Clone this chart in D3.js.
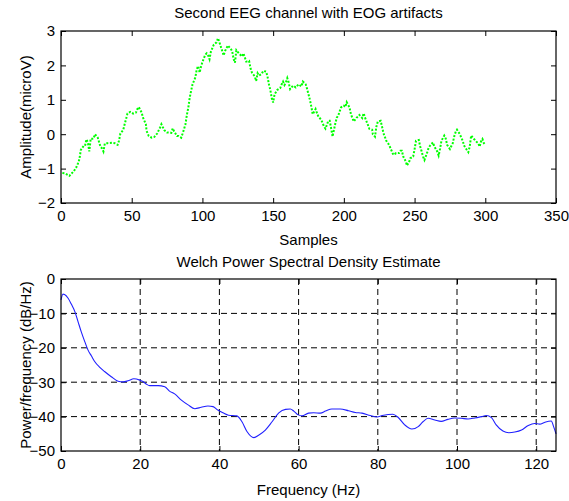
<!DOCTYPE html>
<html>
<head>
<meta charset="utf-8">
<script src="https://cdn.jsdelivr.net/npm/d3@7"></script>
<style>
  html, body { margin: 0; padding: 0; background: #fff; }
  svg { display: block; }
  text { font-family: "Liberation Sans", Arial, sans-serif; fill: #000; }
</style>
</head>
<body>
<svg id="chart" width="569" height="501"></svg>
<script>
// ---------- Data: top panel (EEG channel) ----------
const eegSamples = [1,3,6,7,9,11,12,13,14,16,17,18,19,20,21,23,24,26,27,28,29,30,31,33,36,38,40,41,42,44,45,46,47,49,51,53,54,55,57,58,60,60.5,62,64,66,68,70,71,73,75,78,79,80,82,83,85,86,87,88,89,90,91,92,93,95,96,97,98,99,100,102,103,104,105,106,108,110,111,112,114,115,116,118,120,121,122,123,124,126,128,129,130,131,133,134,135,137,138,139,140,142,143,145,146,147,148,149,150,151,153,155,156,157,158,159,160,161,162,164,166,168,170,171,173,174,175,176,177,178,180,181,182,184,186,187,188,189,190,191,192,194,195,196,198,200,201,202,204,205,207,209,210,211,213,214,215,217,218,220,220.5,222,223,224,226,227,228,230,232,233,235,237,239,240,241,242,244,244.5,246,247,249,250,251,253,254,255,256,257,259,260,261,263,264,266,267,268,269,271,272,273,275,277,278,279,280,282,284,285,287,288,289,290,292,294,295,296,297,298,299,300];
const eegAmplitude = [-1.13,-1.14,-1.21,-1.16,-1.08,-0.95,-0.85,-0.73,-0.46,-0.34,-0.34,-0.15,-0.24,-0.50,-0.13,-0.13,0.00,-0.10,-0.24,-0.37,-0.41,-0.50,-0.27,-0.26,-0.25,-0.26,-0.31,-0.19,0.02,0.12,0.29,0.44,0.60,0.65,0.60,0.63,0.73,0.79,0.63,0.48,0.29,0.10,-0.05,-0.10,-0.08,0.02,0.19,0.29,0.12,0.05,0.04,0.17,0.08,-0.05,-0.05,-0.10,0.02,0.15,0.29,0.56,0.77,1.06,1.26,1.45,1.65,1.89,1.98,1.79,1.96,2.10,2.31,2.35,2.29,2.18,2.40,2.60,2.67,2.79,2.67,2.42,2.29,2.42,2.58,2.48,2.42,2.19,2.08,2.44,2.34,2.26,2.35,2.23,2.11,2.13,1.92,1.79,1.68,1.55,1.77,1.70,1.76,1.84,1.82,1.68,1.45,1.29,1.05,0.92,1.16,1.29,1.34,1.45,1.53,1.43,1.50,1.63,1.50,1.31,1.41,1.36,1.45,1.39,1.53,1.45,1.32,1.16,1.00,0.80,0.58,0.73,0.61,0.51,0.42,0.22,0.16,0.27,0.39,0.39,0.17,-0.07,0.32,0.48,0.54,0.78,0.83,0.79,0.93,0.78,0.58,0.37,0.48,0.51,0.56,0.47,0.61,0.48,0.27,0.16,0.13,0.00,-0.07,0.22,0.37,0.39,0.22,0.03,-0.19,-0.31,-0.41,-0.60,-0.55,-0.55,-0.48,-0.48,-0.65,-0.81,-0.91,-0.82,-0.70,-0.65,-0.44,-0.19,-0.17,-0.36,-0.50,-0.65,-0.75,-0.52,-0.39,-0.33,-0.24,-0.36,-0.50,-0.62,-0.43,-0.19,-0.04,-0.12,-0.31,-0.43,-0.26,-0.07,0.06,0.13,0.00,-0.19,-0.33,-0.46,-0.52,-0.36,-0.04,-0.14,-0.23,-0.26,-0.36,-0.21,-0.14,-0.26,-0.31,-0.29,-0.39];

const topXTicks = [0,50,100,150,200,250,300,350];
const topYTicks = [-2,-1,0,1,2,3];

// ---------- Data: bottom panel (Welch PSD) ----------
const psdFreq = [0,0.5,0.9,1.8,2.6,3.5,4.3,5.1,6.0,6.8,7.7,8.5,9.8,11.0,12.7,14.4,15.7,16.9,18.4,19.9,20.7,21.5,22.4,24.5,26.2,27.4,28.7,30.4,32.1,33.8,35.4,37.1,38.4,39.6,40.9,42.3,44.4,45.7,47.0,48.7,49.9,51.6,53.3,55.0,56.7,57.9,58.8,59.9,60.9,62.5,63.8,65.5,66.8,68.4,70.5,72.6,74.3,76.0,78.1,79.8,81.1,82.6,83.8,85.1,86.8,88.6,90.2,91.4,92.7,94.4,96.0,97.7,99.4,101.1,102.8,104.5,106.2,107.4,108.7,109.9,111.6,113.1,114.6,116.3,118.0,119.6,120.9,122.1,123.8,124.4,125];
const psdPower = [-6.1,-4.4,-4.5,-5.6,-7.3,-9.5,-12.4,-15.3,-18.2,-20.6,-22.4,-24.0,-25.7,-26.9,-28.4,-29.7,-29.9,-29.6,-29.0,-29.4,-29.8,-30.5,-31.0,-31.0,-31.3,-32.6,-33.4,-35.2,-36.6,-37.7,-37.3,-36.9,-37.1,-38.1,-38.9,-39.6,-39.8,-41.5,-44.4,-46.1,-45.4,-43.9,-41.5,-38.9,-37.9,-37.8,-38.4,-39.5,-39.8,-39.0,-38.9,-39.0,-38.4,-37.8,-37.8,-38.3,-38.8,-39.0,-39.7,-40.1,-39.7,-39.4,-39.3,-40.2,-42.4,-43.6,-42.9,-41.5,-40.5,-41.0,-41.4,-40.8,-40.4,-40.5,-40.7,-40.4,-40.0,-39.7,-40.3,-42.4,-44.2,-44.7,-44.5,-43.9,-42.6,-42.0,-42.2,-41.7,-41.3,-42.9,-45.0];

const botXTicks = [0,20,40,60,80,100,120];
const botYTicks = [-50,-40,-30,-20,-10,0];

// ---------- Layout ----------
const svg = d3.select("#chart");
const L = 61, R = 556;
const top1 = 31, bot1 = 203;
const top2 = 279, bot2 = 451;
const FONT = 15;

function frame(yTop, yBot) {
  svg.append("rect")
    .attr("x", L).attr("y", yTop)
    .attr("width", R - L).attr("height", yBot - yTop)
    .attr("fill", "none").attr("stroke", "#000").attr("stroke-width", 1.2);
}

function styleAxis(g, showLabels) {
  g.select(".domain").remove();
  g.selectAll(".tick line").attr("stroke", "#000").attr("stroke-width", 1);
  g.selectAll(".tick text")
    .style("font-family", "'Liberation Sans', Arial, sans-serif")
    .style("font-size", FONT + "px")
    .attr("fill", "#000");
  if (!showLabels) g.selectAll(".tick text").remove();
}

// ---------- Top panel ----------
const x1 = d3.scaleLinear().domain([0, 350]).range([L, R]);
const y1 = d3.scaleLinear().domain([-2, 3]).range([bot1, top1]);

svg.append("path")
  .datum(eegSamples.map((s, i) => [s, eegAmplitude[i]]))
  .attr("fill", "none")
  .attr("stroke", "#00ff00")
  .attr("stroke-width", 2)
  .attr("stroke-dasharray", "2,1.6")
  .attr("d", d3.line().x(d => x1(d[0])).y(d => y1(d[1])));

frame(top1, bot1);

svg.append("g").attr("transform", `translate(0,${bot1})`)
  .call(d3.axisBottom(x1).tickValues(topXTicks).tickFormat(d3.format("d")).tickSizeInner(-5).tickSizeOuter(0).tickPadding(7))
  .call(g => styleAxis(g, true));
svg.append("g").attr("transform", `translate(0,${top1})`)
  .call(d3.axisTop(x1).tickValues(topXTicks).tickSizeInner(-5).tickSizeOuter(0))
  .call(g => styleAxis(g, false));
svg.append("g").attr("transform", `translate(${L},0)`)
  .call(d3.axisLeft(y1).tickValues(topYTicks).tickFormat(d3.format("d")).tickSizeInner(-5).tickSizeOuter(0).tickPadding(6))
  .call(g => styleAxis(g, true));
svg.append("g").attr("transform", `translate(${R},0)`)
  .call(d3.axisRight(y1).tickValues(topYTicks).tickSizeInner(-5).tickSizeOuter(0))
  .call(g => styleAxis(g, false));

svg.append("text").attr("x", (L + R) / 2).attr("y", 18)
  .attr("text-anchor", "middle").style("font-size", FONT + "px")
  .text("Second EEG channel with EOG artifacts");
svg.append("text").attr("x", (L + R) / 2).attr("y", 245)
  .attr("text-anchor", "middle").style("font-size", FONT + "px")
  .text("Samples");
svg.append("text").attr("transform", `translate(31,${(top1 + bot1) / 2}) rotate(-90)`)
  .attr("text-anchor", "middle").style("font-size", FONT + "px")
  .text("Amplitude(microV)");

// ---------- Bottom panel ----------
const x2 = d3.scaleLinear().domain([0, 125]).range([L, R]);
const y2 = d3.scaleLinear().domain([-50, 0]).range([bot2, top2]);

const grid = svg.append("g").attr("stroke", "#000").attr("stroke-width", 1).attr("stroke-dasharray", "6,4");
grid.selectAll("line.v").data(botXTicks.filter(d => d > 0)).join("line")
  .attr("x1", d => x2(d)).attr("x2", d => x2(d)).attr("y1", top2).attr("y2", bot2);
grid.selectAll("line.h").data(botYTicks.filter(d => d > -50 && d < 0)).join("line")
  .attr("x1", L).attr("x2", R).attr("y1", d => y2(d)).attr("y2", d => y2(d));

svg.append("path")
  .datum(psdFreq.map((f, i) => [f, psdPower[i]]))
  .attr("fill", "none")
  .attr("stroke", "#2020ff")
  .attr("stroke-width", 1.1)
  .attr("d", d3.line().curve(d3.curveMonotoneX).x(d => x2(d[0])).y(d => y2(d[1])));

frame(top2, bot2);

svg.append("g").attr("transform", `translate(0,${bot2})`)
  .call(d3.axisBottom(x2).tickValues(botXTicks).tickFormat(d3.format("d")).tickSizeInner(-5).tickSizeOuter(0).tickPadding(7))
  .call(g => styleAxis(g, true));
svg.append("g").attr("transform", `translate(0,${top2})`)
  .call(d3.axisTop(x2).tickValues(botXTicks).tickSizeInner(-5).tickSizeOuter(0))
  .call(g => styleAxis(g, false));
svg.append("g").attr("transform", `translate(${L},0)`)
  .call(d3.axisLeft(y2).tickValues(botYTicks).tickFormat(d3.format("d")).tickSizeInner(-5).tickSizeOuter(0).tickPadding(6))
  .call(g => styleAxis(g, true));
svg.append("g").attr("transform", `translate(${R},0)`)
  .call(d3.axisRight(y2).tickValues(botYTicks).tickSizeInner(-5).tickSizeOuter(0))
  .call(g => styleAxis(g, false));

svg.append("text").attr("x", (L + R) / 2).attr("y", 267)
  .attr("text-anchor", "middle").style("font-size", FONT + "px")
  .text("Welch Power Spectral Density Estimate");
svg.append("text").attr("x", (L + R) / 2).attr("y", 495)
  .attr("text-anchor", "middle").style("font-size", FONT + "px")
  .text("Frequency (Hz)");
svg.append("text").attr("transform", `translate(31,${(top2 + bot2) / 2}) rotate(-90)`)
  .attr("text-anchor", "middle").style("font-size", FONT + "px")
  .text("Power/frequency (dB/Hz)");
</script>
</body>
</html>
